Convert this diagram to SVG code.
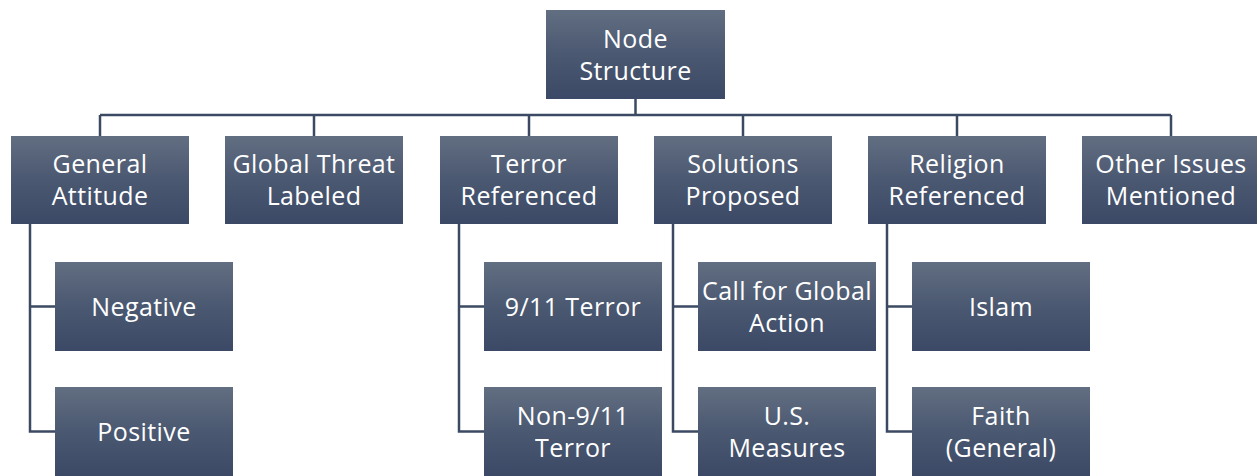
<svg xmlns="http://www.w3.org/2000/svg" width="1257" height="476" viewBox="0 0 1257 476">
<defs>
<linearGradient id="g" x1="0" y1="0" x2="0" y2="1">
<stop offset="0" stop-color="#626e81"/>
<stop offset="0.5" stop-color="#4a5871"/>
<stop offset="1" stop-color="#3b4966"/>
</linearGradient>
<style>
.box{fill:url(#g);}
.t{font-family:"Open Sans","Noto Sans",sans-serif;font-size:25px;letter-spacing:0.4px;fill:#ffffff;text-anchor:middle;}
.c{fill:none;stroke:#3b4963;stroke-width:2.5;}
</style>
</defs>
<rect width="1257" height="476" fill="#ffffff"/>
<g id="connectors">
<path class="c" d="M635.5 99V115M100 115H1171M100 115V136M314 115V136M529 115V136M743 115V136M957 115V136M1171 115V136"/>
<path class="c" d="M30 224V431.5H55M30 306.5H55"/>
<path class="c" d="M459 224V431.5H484M459 306.5H484"/>
<path class="c" d="M673 224V431.5H698M673 306.5H698"/>
<path class="c" d="M887 224V431.5H912M887 306.5H912"/>
</g>
<g id="node-structure"><rect class="box" x="546" y="10" width="179" height="89"/><text class="t" x="635.5" y="47.5">Node</text><text class="t" x="635.5" y="79.5">Structure</text></g>
<g id="general-attitude"><rect class="box" x="11" y="136" width="178" height="88"/><text class="t" x="100" y="173">General</text><text class="t" x="100" y="205">Attitude</text></g>
<g id="global-threat"><rect class="box" x="225" y="136" width="178" height="88"/><text class="t" x="314" y="173">Global Threat</text><text class="t" x="314" y="205">Labeled</text></g>
<g id="terror-referenced"><rect class="box" x="440" y="136" width="178" height="88"/><text class="t" x="529" y="173">Terror</text><text class="t" x="529" y="205">Referenced</text></g>
<g id="solutions-proposed"><rect class="box" x="654" y="136" width="178" height="88"/><text class="t" x="743" y="173">Solutions</text><text class="t" x="743" y="205">Proposed</text></g>
<g id="religion-referenced"><rect class="box" x="868" y="136" width="178" height="88"/><text class="t" x="957" y="173">Religion</text><text class="t" x="957" y="205">Referenced</text></g>
<g id="other-issues"><rect class="box" x="1082" y="136" width="178" height="88"/><text class="t" x="1171" y="173">Other Issues</text><text class="t" x="1171" y="205">Mentioned</text></g>
<g id="negative"><rect class="box" x="55" y="262" width="178" height="89"/><text class="t" x="144" y="315.5">Negative</text></g>
<g id="positive"><rect class="box" x="55" y="387" width="178" height="89"/><text class="t" x="144" y="440.5">Positive</text></g>
<g id="terror-911"><rect class="box" x="484" y="262" width="178" height="89"/><text class="t" x="573" y="315.5">9/11 Terror</text></g>
<g id="terror-non911"><rect class="box" x="484" y="387" width="178" height="89"/><text class="t" x="573" y="424.5">Non-9/11</text><text class="t" x="573" y="456.5">Terror</text></g>
<g id="global-action"><rect class="box" x="698" y="262" width="178" height="89"/><text class="t" x="787" y="299.5">Call for Global</text><text class="t" x="787" y="331.5">Action</text></g>
<g id="us-measures"><rect class="box" x="698" y="387" width="178" height="89"/><text class="t" x="787" y="424.5">U.S.</text><text class="t" x="787" y="456.5">Measures</text></g>
<g id="islam"><rect class="box" x="912" y="262" width="178" height="89"/><text class="t" x="1001" y="315.5">Islam</text></g>
<g id="faith"><rect class="box" x="912" y="387" width="178" height="89"/><text class="t" x="1001" y="424.5">Faith</text><text class="t" x="1001" y="456.5">(General)</text></g>
</svg>
